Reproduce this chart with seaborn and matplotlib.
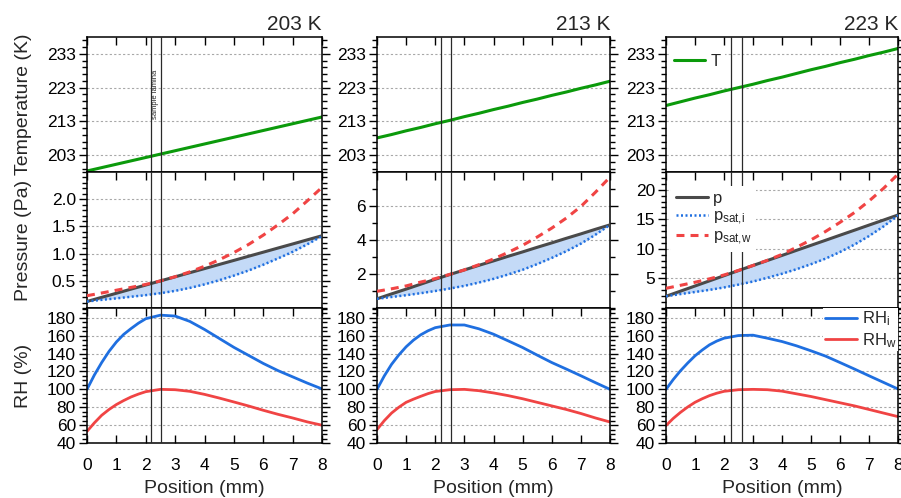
import numpy as np
import seaborn as sns
import matplotlib.pyplot as plt
from matplotlib.ticker import MultipleLocator, FixedLocator

# position across the cell (mm)
position_mm = [0, 0.5, 1, 1.5, 2, 2.5, 3, 3.5, 4, 4.5, 5, 5.5, 6, 6.5, 7, 7.5, 8]
# RH curves are read a bit finer near the cold end, where they bend fast
position_rh_mm = [0, 0.25, 0.5, 0.75, 1, 1.25, 1.5, 1.75, 2, 2.5, 3, 3.5, 4, 4.5, 5, 5.5, 6, 6.5, 7, 7.5, 8]

panel_titles = ["203 K", "213 K", "223 K"]
lamina_edges = [(2.18, 2.51), (2.20, 2.55), (2.23, 2.62)]

# 203 K
T_203 = [198.3, 199.3, 200.3, 201.3, 202.3, 203.3, 204.3, 205.3, 206.3, 207.3, 208.3, 209.3, 210.3, 211.3, 212.3, 213.3, 214.3]
p_203 = [0.12, 0.196, 0.271, 0.347, 0.422, 0.498, 0.573, 0.649, 0.724, 0.800, 0.875, 0.951, 1.026, 1.102, 1.177, 1.253, 1.328]
psat_i_203 = [0.12, 0.150, 0.177, 0.207, 0.236, 0.272, 0.315, 0.369, 0.434, 0.510, 0.595, 0.689, 0.795, 0.911, 1.032, 1.171, 1.321]
psat_w_203 = [0.226, 0.276, 0.327, 0.379, 0.433, 0.498, 0.575, 0.664, 0.767, 0.886, 1.019, 1.168, 1.339, 1.528, 1.731, 1.970, 2.217]
rh_i_203 = [100, 116, 130, 142.5, 153, 161.5, 168, 174, 179, 183, 182, 176, 167, 157, 147, 138, 129, 121, 114, 107, 100.5]
rh_w_203 = [53, 62.5, 71, 77.5, 83, 87.5, 91.5, 94.7, 97.4, 100, 99.6, 97.8, 94.4, 90.3, 85.9, 81.4, 76.6, 72.1, 68, 63.6, 59.9]

# 213 K
T_213 = [208.1, 209.1, 210.2, 211.2, 212.3, 213.3, 214.4, 215.4, 216.5, 217.5, 218.6, 219.6, 220.7, 221.7, 222.8, 223.8, 224.9]
p_213 = [0.54, 0.83, 1.11, 1.40, 1.69, 1.97, 2.24, 2.51, 2.77, 3.04, 3.30, 3.57, 3.83, 4.10, 4.36, 4.63, 4.89]
psat_i_213 = [0.54, 0.648, 0.752, 0.870, 1.000, 1.145, 1.302, 1.497, 1.713, 1.970, 2.248, 2.581, 2.946, 3.341, 3.785, 4.31, 4.89]
psat_w_213 = [0.982, 1.129, 1.298, 1.525, 1.728, 1.978, 2.24, 2.548, 2.885, 3.269, 3.687, 4.175, 4.699, 5.29, 5.973, 6.809, 7.70]
rh_i_213 = [100, 115, 128, 138.5, 147.6, 155, 161, 165.5, 169, 172, 172, 167.7, 161.7, 154.3, 146.8, 138.3, 130, 122.7, 115.2, 107.5, 100]
rh_w_213 = [55, 65, 73.5, 80, 85.5, 89, 92.2, 95.2, 97.6, 99.6, 100, 98.5, 96, 93, 89.5, 85.5, 81.5, 77.5, 73, 68, 63.5]

# 223 K
T_223 = [217.7, 218.8, 219.9, 220.9, 222.0, 223.0, 224.0, 225.1, 226.1, 227.2, 228.3, 229.3, 230.4, 231.4, 232.5, 233.5, 234.6]
p_223 = [1.98, 2.85, 3.72, 4.59, 5.46, 6.33, 7.19, 8.04, 8.89, 9.75, 10.60, 11.45, 12.31, 13.16, 14.02, 14.87, 15.73]
psat_i_223 = [1.98, 2.359, 2.705, 3.064, 3.473, 3.951, 4.477, 5.115, 5.792, 6.557, 7.407, 8.345, 9.469, 10.725, 12.17, 13.79, 15.67]
psat_w_223 = [3.328, 3.836, 4.351, 4.935, 5.583, 6.355, 7.19, 8.072, 9.071, 10.263, 11.522, 12.938, 14.482, 16.147, 18.09, 20.23, 22.63]
rh_i_223 = [100, 111, 120.8, 129.5, 137.5, 144, 149.8, 154, 157.2, 160.2, 160.6, 157.2, 153.5, 148.7, 143.1, 137.2, 130, 122.7, 115.2, 107.8, 100.4]
rh_w_223 = [59.5, 67.5, 74.3, 80.3, 85.5, 89.5, 93, 95.7, 97.8, 99.6, 100, 99.6, 98, 95, 92, 88.5, 85, 81.5, 77.5, 73.5, 69.5]

temp_series = [T_203, T_213, T_223]
p_series = [p_203, p_213, p_223]
psat_i_series = [psat_i_203, psat_i_213, psat_i_223]
psat_w_series = [psat_w_203, psat_w_213, psat_w_223]
rh_i_series = [rh_i_203, rh_i_213, rh_i_223]
rh_w_series = [rh_w_203, rh_w_213, rh_w_223]

p_limits = [(0, 2.5), (0, 8), (0, 23)]
p_majors = [[0.5, 1.0, 1.5, 2.0], [2, 4, 6], [5, 10, 15, 20]]
p_minor_step = [0.1, 1, 1]

GREEN = '#0b9a0b'
GRAY = '#4a4a4a'
BLUE = '#1f6fe0'
RED = '#f04444'
FILL = '#c4daf7'

sns.set_theme(style="ticks")
plt.rcParams['font.family'] = ['Liberation Sans', 'DejaVu Sans']
plt.rcParams['mathtext.default'] = 'regular'

fig = plt.figure(figsize=(9.01, 4.98), dpi=100)

W, H = 901, 498
col_left = [87, 377, 666]
col_width = [235, 233, 232]
row_top = [37, 172, 308]
row_height = [135, 136, 135]


def make_ax(r, c):
    left = col_left[c] / W
    bottom = 1 - (row_top[r] + row_height[r]) / H
    return fig.add_axes([left, bottom, col_width[c] / W, row_height[r] / H])


def style_ax(ax, bottom_row):
    ax.set_xlim(0, 8)
    ax.xaxis.set_major_locator(MultipleLocator(1))
    ax.tick_params(axis='x', which='major', direction='in', top=True, bottom=bottom_row,
                   labelbottom=bottom_row, length=6, width=1, labelsize=12.5, pad=11, colors='black')
    ax.tick_params(axis='y', which='both', direction='out', left=True, right=True,
                   labelleft=True, width=1, labelsize=12.5, pad=2, colors='black')
    ax.tick_params(axis='y', which='major', length=6)
    ax.tick_params(axis='y', which='minor', length=3.5)
    ax.grid(axis='y', which='major', color='#a8a8a8', linestyle=(0, (2, 2)), lw=0.8)
    ax.grid(axis='x', visible=False)
    for s in ax.spines.values():
        s.set_linewidth(1.1)
        s.set_color('black')


legend_kw = dict(frameon=True, facecolor='white', edgecolor='none', framealpha=1,
                 fontsize=12, handlelength=1.9, handletextpad=0.3, fancybox=False)

for c in range(3):
    last = c == 2
    ax_t = make_ax(0, c)
    ax_p = make_ax(1, c)
    ax_rh = make_ax(2, c)

    # Temperature
    sns.lineplot(x=position_mm, y=temp_series[c], ax=ax_t, color=GREEN, lw=2.2,
                 label='T' if last else None, legend=False)
    ax_t.set_ylim(198, 238)
    ax_t.yaxis.set_major_locator(FixedLocator([203, 213, 223, 233]))
    ax_t.yaxis.set_minor_locator(FixedLocator(np.arange(199, 238, 2)))
    style_ax(ax_t, False)
    ax_t.set_title(panel_titles[c], loc='right', fontsize=15, pad=5)
    if last:
        ax_t.legend(loc='upper left', bbox_to_anchor=(0.0, 0.93), borderaxespad=0.15,
                    borderpad=0.3, **legend_kw)

    # Pressure
    ax_p.fill_between(position_mm, psat_i_series[c], p_series[c], color=FILL, lw=0, zorder=1)
    sns.lineplot(x=position_mm, y=p_series[c], ax=ax_p, color=GRAY, lw=2.2,
                 label='p' if last else None, legend=False, zorder=3)
    sns.lineplot(x=position_mm, y=psat_i_series[c], ax=ax_p, color=BLUE, lw=1.8,
                 linestyle=(0, (0.8, 1.0)), label=r'p$_{sat{,}i}$' if last else None,
                 legend=False, zorder=3)
    sns.lineplot(x=position_mm, y=psat_w_series[c], ax=ax_p, color=RED, lw=2.2,
                 linestyle=(0, (2.6, 2.0)), label=r'p$_{sat{,}w}$' if last else None,
                 legend=False, zorder=3)
    ax_p.set_ylim(*p_limits[c])
    ax_p.yaxis.set_major_locator(FixedLocator(p_majors[c]))
    ax_p.yaxis.set_minor_locator(MultipleLocator(p_minor_step[c]))
    style_ax(ax_p, False)
    if last:
        ax_p.legend(loc='upper left', bbox_to_anchor=(0.0, 0.935), labelspacing=0.15,
                    borderaxespad=0.3, borderpad=0.3, **legend_kw)

    # Relative humidity
    sns.lineplot(x=position_rh_mm, y=rh_i_series[c], ax=ax_rh, color=BLUE, lw=2.0,
                 label=r'RH$_{i}$' if last else None, legend=False)
    sns.lineplot(x=position_rh_mm, y=rh_w_series[c], ax=ax_rh, color=RED, lw=2.0,
                 label=r'RH$_{w}$' if last else None, legend=False)
    ax_rh.set_ylim(40, 191)
    ax_rh.yaxis.set_major_locator(FixedLocator(list(range(40, 181, 20))))
    ax_rh.yaxis.set_minor_locator(MultipleLocator(5))
    style_ax(ax_rh, True)
    ax_rh.set_xlabel('Position (mm)', fontsize=14, labelpad=5)
    if last:
        ax_rh.legend(loc='upper right', labelspacing=0.15, borderaxespad=0.0,
                     borderpad=0.1, **legend_kw)

    # sample lamina boundaries
    for ax in (ax_t, ax_p, ax_rh):
        for xe in lamina_edges[c]:
            ax.axvline(xe, color='#2a2a2a', lw=0.9, zorder=4)

    if c == 0:
        ax_t.text(sum(lamina_edges[c]) / 2, 221, 'sample lamina', rotation=90,
                  fontsize=5.5, ha='center', va='center')
        ax_t.set_ylabel('Temperature (K)', fontsize=14)
        ax_p.set_ylabel('Pressure (Pa)', fontsize=14)
        ax_rh.set_ylabel('RH (%)', fontsize=14)
        for ax in (ax_t, ax_p, ax_rh):
            ax.yaxis.set_label_coords(-0.232, 0.5)

fig.savefig('out.png', dpi=100)
